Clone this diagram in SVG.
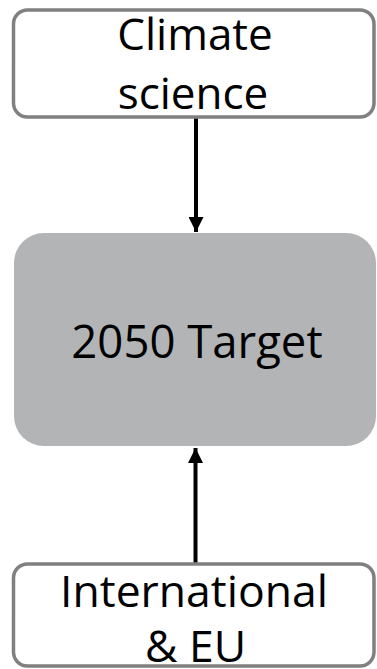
<svg xmlns="http://www.w3.org/2000/svg" width="377" height="669" viewBox="0 0 377 669">
  <style>
    .box { fill: #ffffff; stroke: #808080; stroke-width: 3.5; }
    .core { fill: #b3b4b6; }
    .label { font-family: "Open Sans", "Noto Sans", "DejaVu Sans", sans-serif; fill: #000000; text-anchor: middle; }
    .link { stroke: #000000; stroke-width: 4; fill: none; }
  </style>
  <defs>
    <marker id="arrow" viewBox="0 0 15 15" refX="15" refY="7.5" markerWidth="15" markerHeight="15" markerUnits="userSpaceOnUse" orient="auto">
      <path d="M0,0 L15,7.5 L0,15 Z" fill="#000000"/>
    </marker>
  </defs>

  <g id="connectors">
    <line class="link" x1="196" y1="118" x2="196" y2="232" marker-end="url(#arrow)"/>
    <line class="link" x1="195.5" y1="563" x2="195.5" y2="448" marker-end="url(#arrow)"/>
  </g>

  <g id="node-climate-science">
    <rect class="box" x="13.5" y="10" width="360.5" height="107" rx="14"/>
    <text class="label" font-size="44" x="195" y="50">Climate</text>
    <text class="label" font-size="44" x="193" y="109">science</text>
  </g>

  <g id="node-2050-target">
    <rect class="core" x="14" y="233" width="362" height="213" rx="30"/>
    <text class="label" font-size="45.5" x="197" y="358">2050 Target</text>
  </g>

  <g id="node-international-eu">
    <rect class="box" x="13.5" y="564" width="360.5" height="102" rx="14"/>
    <text class="label" font-size="44.5" x="194" y="607">International</text>
    <text class="label" font-size="44.5" x="195.5" y="662">&amp; EU</text>
  </g>
</svg>
